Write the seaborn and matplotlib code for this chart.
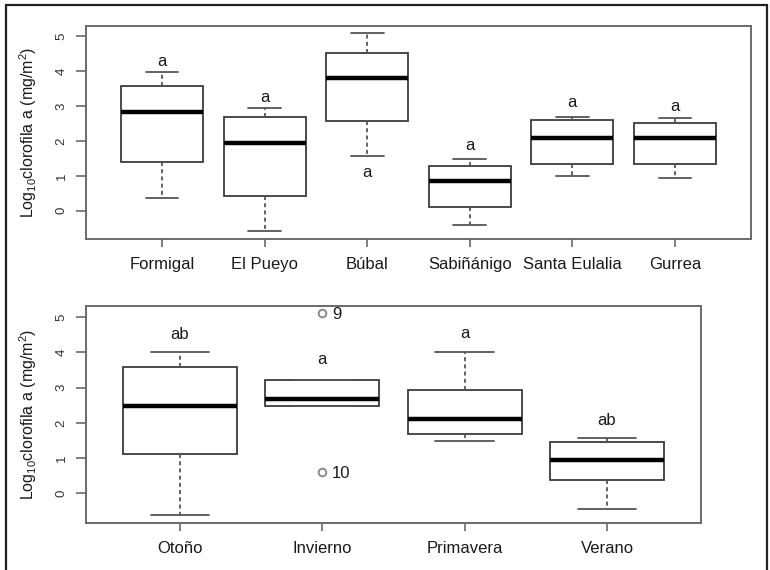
import numpy as np
import pandas as pd
import seaborn as sns
import matplotlib.pyplot as plt
from matplotlib.patches import Rectangle

# ---------------- data ----------------
sites = ["Formigal", "El Pueyo", "Búbal", "Sabiñánigo", "Santa Eulalia", "Gurrea"]
formigal = [0.37, 1.40, 2.83, 3.57, 3.98]
el_pueyo = [-0.58, 0.42, 1.95, 2.69, 2.93]
bubal = [1.57, 2.58, 3.79, 4.53, 5.08]
sabinanigo = [-0.41, 0.11, 0.86, 1.29, 1.48]
santa_eulalia = [1.00, 1.33, 2.09, 2.60, 2.69]
gurrea = [0.93, 1.33, 2.09, 2.52, 2.65]
site_letters = ["a", "a", "a", "a", "a", "a"]
site_letter_y = [4.27, 3.24, 1.09, 1.88, 3.09, 2.98]

seasons = ["Otoño", "Invierno", "Primavera", "Verano"]
otono = [-0.60, 1.12, 2.48, 3.60, 4.02]
invierno = [0.61, 2.48, 2.48, 2.67, 3.22, 3.22, 5.11]
primavera = [1.48, 1.68, 2.11, 2.93, 4.02]
verano = [-0.43, 0.38, 0.95, 1.45, 1.58]
season_letters = ["ab", "a", "a", "ab"]
season_letter_y = [4.50, 3.79, 4.54, 2.08]
outlier_labels = ["9", "10"]
outlier_values = [5.11, 0.61]

ylabel = r"Log$_{10}$clorofila a (mg/m$^{2}$)"
yticks = [0, 1, 2, 3, 4, 5]

# ---------------- style ----------------
sns.set_style("ticks")
plt.rcParams["font.family"] = ["Liberation Sans", "DejaVu Sans"]
plt.rcParams["mathtext.fontset"] = "custom"
plt.rcParams["mathtext.rm"] = "Liberation Sans"
plt.rcParams["mathtext.it"] = "Liberation Sans:italic"
plt.rcParams["mathtext.bf"] = "Liberation Sans:bold"

W, H = 770, 570
fig = plt.figure(figsize=(W / 100, H / 100), dpi=100)
fig.patch.set_facecolor("white")

ax1 = fig.add_axes([86 / W, 1 - 239 / H, (751 - 86) / W, (239 - 26) / H])
ax2 = fig.add_axes([86 / W, 1 - 523 / H, (701 - 86) / W, (523 - 306) / H])

spine_col = "#6a6a6a"
box_col = "#3c3c3c"
common = dict(
    color="white",
    linecolor=box_col,
    linewidth=1.3,
    width=0.8,
    whis=1.5,
    medianprops={"color": "black", "linewidth": 3.2},
    whiskerprops={"color": "#555555", "linewidth": 1.3, "linestyle": (0, (2.2, 1.8))},
    capprops={"color": "#555555", "linewidth": 1.3},
    flierprops={"marker": "o", "markerfacecolor": "none",
                "markeredgecolor": "#8a8a8a", "markersize": 5.5,
                "markeredgewidth": 1.4},
)

df_sites = pd.DataFrame({
    "grupo": np.repeat(sites, [len(v) for v in [formigal, el_pueyo, bubal, sabinanigo, santa_eulalia, gurrea]]),
    "valor": np.concatenate([formigal, el_pueyo, bubal, sabinanigo, santa_eulalia, gurrea]),
})
season_groups = [otono, invierno, primavera, verano]
df_seasons = pd.DataFrame({
    "grupo": np.repeat(seasons, [len(v) for v in season_groups]),
    "valor": np.concatenate(season_groups),
})

sns.boxplot(data=df_sites, x="grupo", y="valor", order=sites, ax=ax1,
            capwidths=0.32, **common)
sns.boxplot(data=df_seasons, x="grupo", y="valor", order=seasons, ax=ax2,
            capwidths=0.41, **common)

ax1.set_xlim(-0.74, 5.74)
ax1.set_ylim(-0.81, 5.29)
ax2.set_xlim(-0.66, 3.66)
ax2.set_ylim(-0.84, 5.32)

for i, (lab, yv) in enumerate(zip(site_letters, site_letter_y)):
    ax1.text(i, yv, lab, ha="center", va="center", fontsize=12, color="#1a1a1a")
for i, (lab, yv) in enumerate(zip(season_letters, season_letter_y)):
    ax2.text(i, yv, lab, ha="center", va="center", fontsize=12, color="#1a1a1a")

inv_idx = seasons.index("Invierno")
for lab, yv in zip(outlier_labels, outlier_values):
    ax2.annotate(lab, xy=(inv_idx, yv), xytext=(7, -1), textcoords="offset points",
                 ha="left", va="center", fontsize=12, color="#1a1a1a")

for ax, ncat in [(ax1, len(sites)), (ax2, len(seasons))]:
    ax.set_xlabel("")
    ax.set_ylabel(ylabel, fontsize=11.5, color="#1a1a1a", va="center")
    ax.set_yticks(yticks)
    ax.set_yticklabels([str(t) for t in yticks], rotation=90, va="center")
    ax.set_xticks(range(ncat))
    ax.tick_params(axis="y", direction="out", length=7.2, width=1.2, color=spine_col,
                   labelsize=9.5, pad=6, labelcolor="#333333")
    ax.tick_params(axis="x", direction="out", length=6.0, width=1.2, color=spine_col,
                   labelsize=12, pad=7, labelcolor="#1a1a1a")
    for s in ax.spines.values():
        s.set_visible(True)
        s.set_color(spine_col)
        s.set_linewidth(1.4)
    ax.grid(False)
    ax.set_facecolor("white")

ax1.yaxis.set_label_coords((28.5 - 86) / (751 - 86), 0.5)
ax2.yaxis.set_label_coords((28.5 - 86) / (701 - 86), 0.5)

# outer frame of the figure
frame = Rectangle((6 / W, -0.05), (767 - 6) / W, 1 - 5 / H + 0.05,
                  transform=fig.transFigure, fill=False, edgecolor="#222222",
                  linewidth=1.6, clip_on=False)
fig.patches.append(frame)

fig.savefig("out.png", dpi=100, facecolor="white")
